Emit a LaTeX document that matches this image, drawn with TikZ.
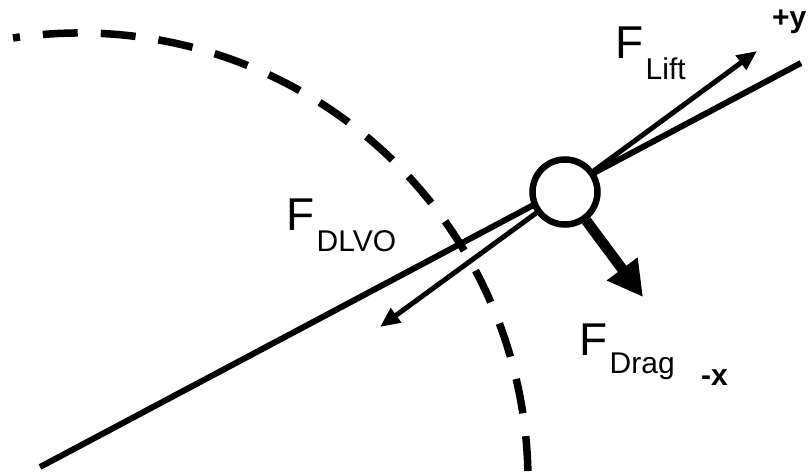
\documentclass[tikz,border=0pt]{standalone}
\usepackage{fontspec}
\setmainfont{Liberation Sans}
\usetikzlibrary{arrows.meta, positioning, backgrounds}
\tikzset{
  forcelabel/.style={inner sep=0pt, anchor=base west, font=\fontsize{46}{46}\selectfont},
  sublabel/.style={inner sep=0pt, anchor=base west, font=\fontsize{30}{30}\selectfont},
  axislabel/.style={inner sep=0pt, anchor=base west, font=\fontsize{30}{30}\selectfont\bfseries},
  particle/.style={circle, draw=black, line width=6.5pt, fill=white, minimum size=65pt, inner sep=0pt},
  wallline/.style={line width=6pt},
  boundary/.style={line width=7.5pt, dash pattern=on 35pt off 23pt, dash phase=28pt},
  arrowline/.style={line width=5pt, -{Triangle[length=20pt, width=17pt]}},
  dragarrow/.style={line width=10.5pt, -{Triangle[length=35pt, width=36pt]}},
}

\begin{document}
\begin{tikzpicture}[x=1pt, y=-1pt]
  \useasboundingbox (0,0) rectangle (809,474);

  \coordinate (p) at (565,192);
  \coordinate (wl) at (40,467);
  \coordinate (wr) at (801,63);
  \coordinate (lifttip) at (757,51);
  \coordinate (dlvotip) at (380,327);
  \coordinate (dragtip) at (643,297);

  \begin{scope}[on background layer]
    \draw[boundary] (13,38) arc[start angle=-98.6, end angle=0, radius=448];
    \draw[wallline] (wl) -- (wr);
    \draw[arrowline] (p) -- (lifttip);
    \draw[arrowline] (p) -- (dlvotip);
  \end{scope}

  \node[particle] (sphere) at (p) {};
  \draw[dragarrow] (sphere) -- (dragtip);

  \node[forcelabel] (fdlvo) at (286,230) {F};
  \node[sublabel] (fdlvosub) at ([xshift=2pt, yshift=-21pt]fdlvo.base east) {DLVO};
  \node[forcelabel] (flift) at (615,58) {F};
  \node[sublabel] (fliftsub) at ([xshift=2pt, yshift=-21pt]flift.base east) {Lift};
  \node[forcelabel] (fdrag) at (579,355) {F};
  \node[sublabel] (fdragsub) at ([xshift=2pt, yshift=-18pt]fdrag.base east) {Drag};

  \node[axislabel] (ylabel) at (772,27) {+y};
  \node[axislabel] (xlabel) at (701,385) {-x};
\end{tikzpicture}
\end{document}
